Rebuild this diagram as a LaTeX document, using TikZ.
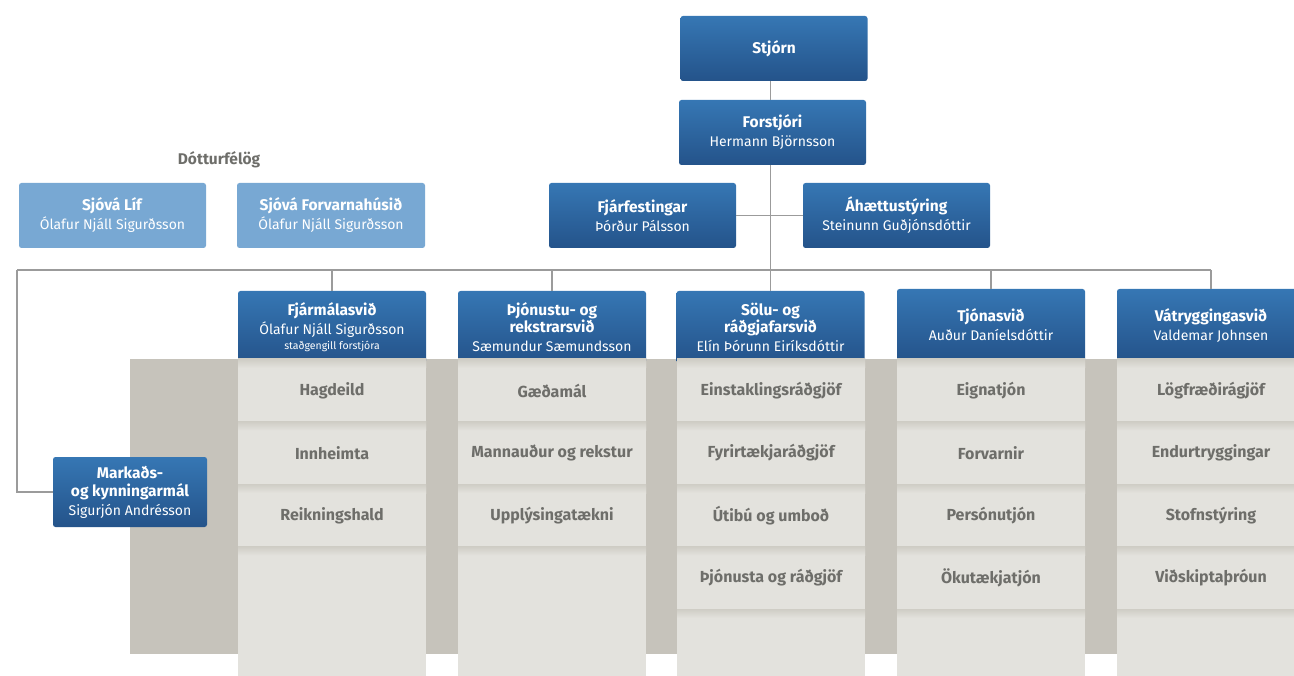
\documentclass[tikz,border=0pt]{standalone}
\usepackage{fontspec}
\setmainfont{Fira Sans}

\definecolor{boxtop}{HTML}{3677B4}
\definecolor{boxbot}{HTML}{24538A}
\definecolor{lightblue}{HTML}{78A8D3}
\definecolor{linegray}{HTML}{9B9B9B}
\definecolor{bggray}{HTML}{C6C3BB}
\definecolor{cellgray}{HTML}{E3E2DD}
\definecolor{cellshade}{HTML}{CFCDC5}
\definecolor{textgray}{HTML}{6E6E6A}

\newcommand{\ttl}[1]{\textbf{\fontsize{15.5}{18}\selectfont #1}}

\tikzset{
  bluebox/.style={rounded corners=2.5pt, top color=boxtop, bottom color=boxbot, text=white,
    minimum width=187pt, minimum height=65pt, align=center, inner sep=0pt,
    font=\fontsize{14}{19}\selectfont},
  subbox/.style={bluebox, top color=lightblue, bottom color=lightblue},
  headbox/.style={bluebox, minimum width=188pt, minimum height=72pt},
  conn/.style={draw=linegray, line width=1.5pt},
  item/.style={text=textgray, font=\bfseries\fontsize{16}{19}\selectfont},
}

\begin{document}
\begin{tikzpicture}[x=1pt,y=-1pt]
    \clip (0,0) rectangle (1294,676);

    % background band
    \fill [bggray] (130,359) rectangle (1294,654);

    % top of the chart
    \node [bluebox] (stjorn) at (774,48.5) {\ttl{Stjórn}};
    \node [bluebox] (forstjori) at (772.5,132.5) {\ttl{Forstjóri}\\Hermann Björnsson};
    \node [bluebox] (fjarfest) at (642.5,215.5) {\ttl{Fjárfestingar}\\Þórður Pálsson};
    \node [bluebox] (ahaetta) at (896.5,215.5) {\ttl{Áhættustýring}\\Steinunn Guðjónsdóttir};

    % subsidiaries
    \node [text=textgray, font=\bfseries\fontsize{15.5}{18}\selectfont] (dottur) at (219,160) {Dótturfélög};
    \node [subbox] (lif) at (112.5,215.5) {\ttl{Sjóvá Líf}\\Ólafur Njáll Sigurðsson};
    \node [subbox, minimum width=188pt] (forvarna) at (331,215.5) {\ttl{Sjóvá Forvarnahúsið}\\Ólafur Njáll Sigurðsson};

    % department columns
    \foreach \x/\list in {238/{Hagdeild,Innheimta,Reikningshald},
                          458/{Gæðamál,Mannauður og rekstur,Upplýsingatækni},
                          677/{Einstaklingsráðgjöf,Fyrirtækjaráðgjöf,Útibú og umboð,Þjónusta og ráðgjöf},
                          897/{Eignatjón,Forvarnir,Persónutjón,Ökutækjatjón},
                          1117/{Lögfræðirágjöf,Endurtryggingar,Stofnstýring,Viðskiptaþróun}} {
        \fill [cellgray] (\x,359) rectangle ++(188,317);
        \foreach \t [count=\r] in \list {
            \shade [top color=cellshade, bottom color=cellgray] (\x,359+62.5*\r-62.5) rectangle ++(188,9);
            \shade [top color=cellshade, bottom color=cellgray] (\x,359+62.5*\r) rectangle ++(188,9);
            \node [item] (cell-\x-\r) at (\x+94,390.5+62.5*\r-62.5) {\t};
        }
    }

    % department heads
    \node [headbox] (fjarmal) at (332,327) {\ttl{Fjármálasvið}\\Ólafur Njáll Sigurðsson\\[-4pt]{\fontsize{10.5}{12}\selectfont staðgengill forstjóra}};
    \node [headbox] (thjon) at (552,327) {\ttl{Þjónustu- og}\\[-2pt]\ttl{rekstrarsvið}\\Sæmundur Sæmundsson};
    \node [headbox] (sala) at (770.5,327) {\ttl{Sölu- og}\\[-2pt]\ttl{ráðgjafarsvið}\\Elín Þórunn Eiríksdóttir};
    \node [headbox] (tjon) at (991,325) {\ttl{Tjónasvið}\\Auður Daníelsdóttir};
    \node [headbox] (vatr) at (1211,325) {\ttl{Vátryggingasvið}\\Valdemar Johnsen};
    \foreach \x in {238,458,677,897,1117}
    \shade [top color=cellshade, bottom color=cellgray] (\x,359) rectangle ++(188,9);

    \node [bluebox, minimum width=154pt, minimum height=70pt] (markads) at (130,492)
        {\ttl{Markaðs-}\\[-1pt]\ttl{og kynningarmál}\\Sigurjón Andrésson};

    % connectors
    \coordinate (trunk) at (770.5,270);
    \coordinate (lft) at (17,270);
    \draw [conn] (stjorn.south -| trunk) -- (forstjori.north -| trunk);
    \draw [conn] (forstjori.south -| trunk) -- (trunk);
    \draw [conn] (fjarfest.east) -- (ahaetta.west);
    \draw [conn] (lft) -- (lft -| vatr);
    \draw [conn] (lft) -- (markads.west -| lft) -- (markads.west);
    \foreach \h in {fjarmal,thjon,sala,tjon,vatr}
    \draw [conn] (lft -| \h) -- (\h.north);
\end{tikzpicture}
\end{document}
